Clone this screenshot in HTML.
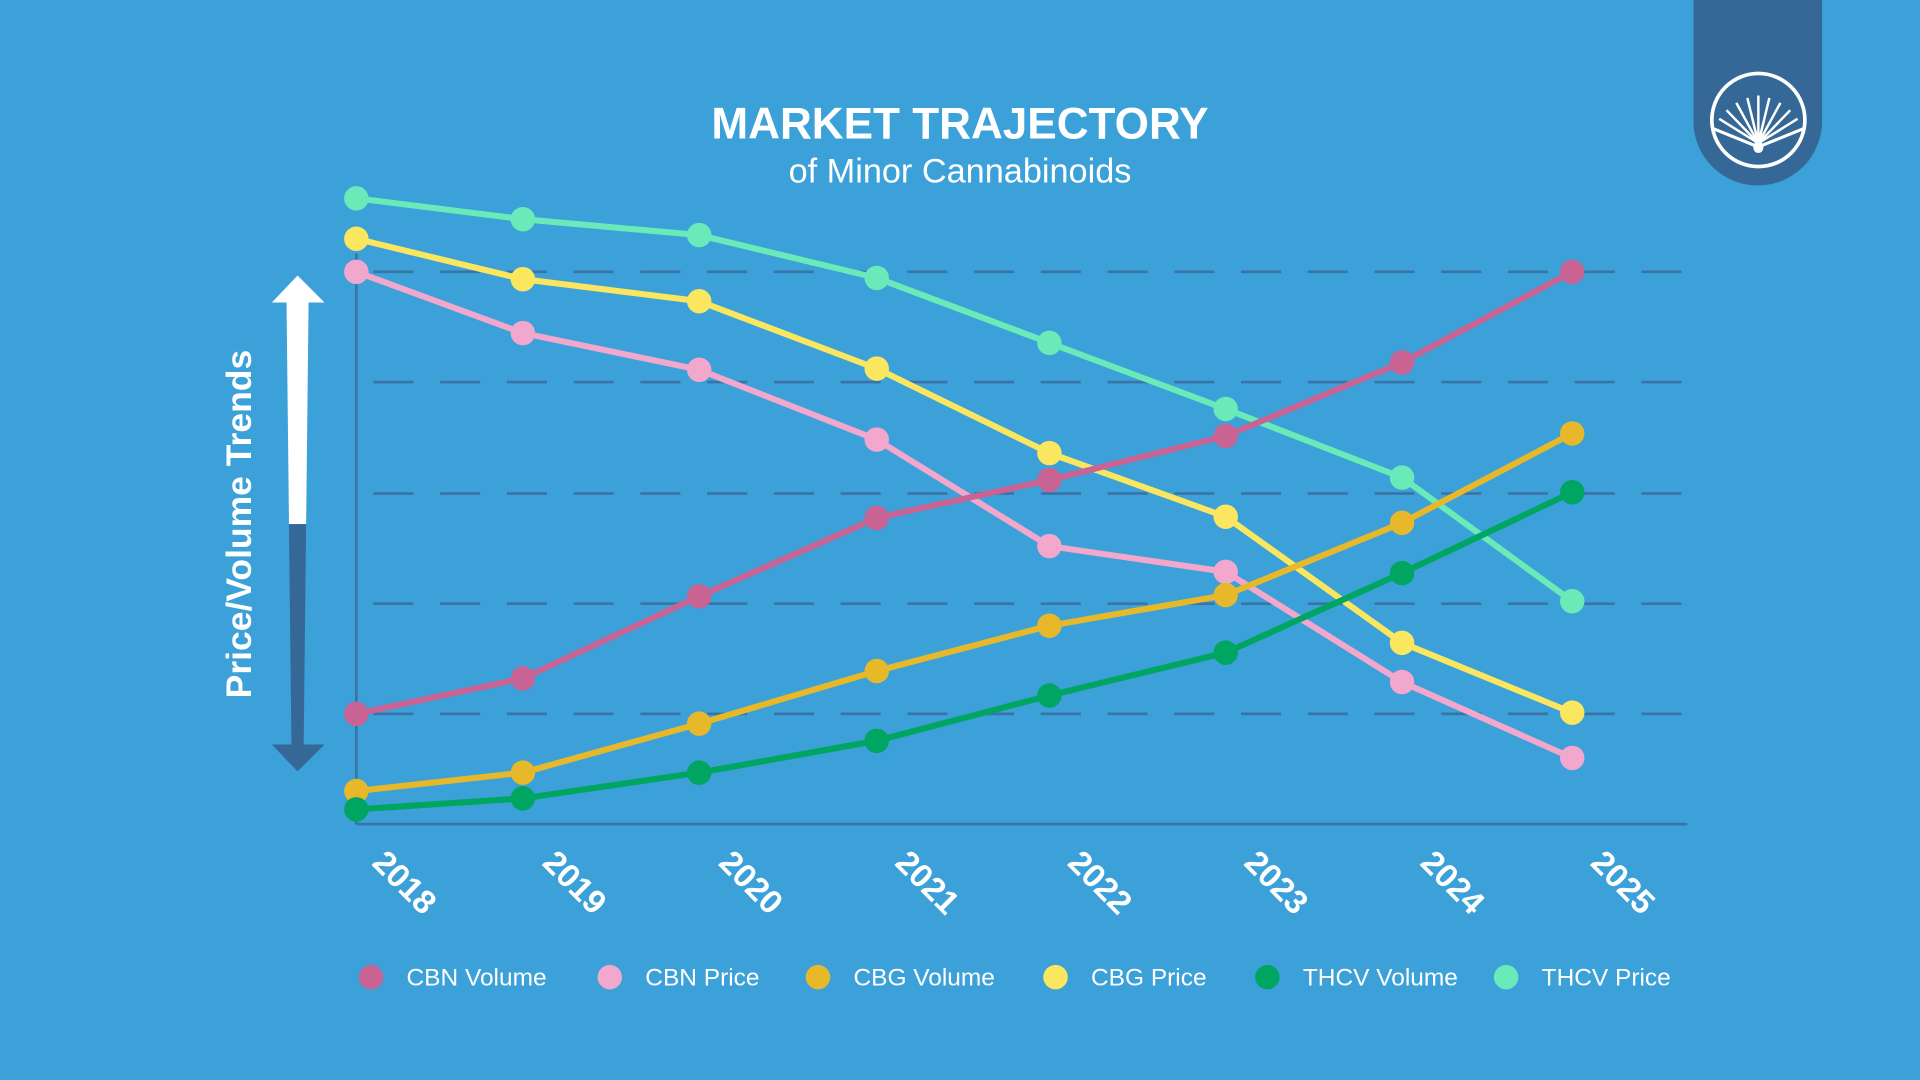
<!DOCTYPE html>
<html><head><meta charset="utf-8"><style>
html,body{margin:0;padding:0;background:#3ba1d8;width:1920px;height:1080px;overflow:hidden}
svg{display:block}
text{font-family:"Liberation Sans",sans-serif;fill:#fff}
</style></head><body>
<svg width="1920" height="1080" viewBox="0 0 1568 882" preserveAspectRatio="none">
<rect width="1568" height="882" fill="#3ba1d8"/>
<path d="M1383 0 H1488 V99 A52.5 52.5 0 0 1 1383 99 Z" fill="#356896"/>
<g stroke="#fff" fill="none" stroke-width="3">
<circle cx="1436" cy="98" r="38"/>
<path d="M1399 105 L1436 120 L1473 105" stroke-width="2.5"/>
<g stroke-width="2">
<line x1="1436" y1="117" x2="1436" y2="78"/>
<line x1="1436" y1="117" x2="1427" y2="80"/><line x1="1436" y1="117" x2="1445" y2="80"/>
<line x1="1436" y1="117" x2="1418" y2="84"/><line x1="1436" y1="117" x2="1454" y2="84"/>
<line x1="1436" y1="117" x2="1410" y2="90"/><line x1="1436" y1="117" x2="1462" y2="90"/>
<line x1="1436" y1="117" x2="1404" y2="97"/><line x1="1436" y1="117" x2="1468" y2="97"/>
</g></g>
<path d="M1436 112 Q1441 119 1440 121 A4 4 0 0 1 1432 121 Q1431 119 1436 112Z" fill="#fff"/>
<text x="784" y="113" text-anchor="middle" font-size="36" font-weight="bold">MARKET TRAJECTORY</text>
<text x="784" y="149" text-anchor="middle" font-size="28">of Minor Cannabinoids</text>
<g stroke="#3a74a6" stroke-width="2.2" stroke-dasharray="32.7 21.8" stroke-dashoffset="-14">
<line x1="291" y1="222" x2="1378" y2="222"/>
<line x1="291" y1="312" x2="1378" y2="312"/>
<line x1="291" y1="403" x2="1378" y2="403"/>
<line x1="291" y1="493" x2="1378" y2="493"/>
<line x1="291" y1="583" x2="1378" y2="583"/>
</g>
<line x1="291" y1="207" x2="291" y2="673" stroke="#3a74a6" stroke-width="2.2"/>
<line x1="291" y1="673" x2="1378" y2="673" stroke="#3a74a6" stroke-width="2.2"/>
<polygon points="222,247 243,225 265,247 252,247 250,428 236,428 234,247" fill="#fff"/>
<polygon points="236,428 250,428 248,608 265,608 243,630 222,608 238,608" fill="#356896"/>
<text transform="translate(205,428) rotate(-90)" text-anchor="middle" font-size="29" font-weight="bold">Price/Volume Trends</text>
<g fill="none" stroke-width="5" stroke-linejoin="round">
<polyline stroke="#6aeab8" points="291,162 427,179 571,192 716,227 857,280 1001,334 1145,390 1284,491"/>
<polyline stroke="#fbe660" points="291,195 427,228 571,246 716,301 857,370 1001,422 1145,525 1284,582"/>
<polyline stroke="#f2a7cd" points="291,222 427,272 571,302 716,359 857,446 1001,467 1145,557 1284,619"/>
<polyline stroke="#c96394" points="291,583 427,554 571,487 716,423 857,392 1001,356 1145,296 1284,222"/>
<polyline stroke="#e6b82a" points="291,646 427,631 571,591 716,548 857,511 1001,486 1145,427 1284,354"/>
<polyline stroke="#00a561" points="291,661 427,652 571,631 716,605 857,568 1001,533 1145,468 1284,402"/>
</g>
<g fill="#6aeab8"><circle cx="291" cy="162" r="10"/><circle cx="427" cy="179" r="10"/><circle cx="571" cy="192" r="10"/><circle cx="716" cy="227" r="10"/><circle cx="857" cy="280" r="10"/><circle cx="1001" cy="334" r="10"/><circle cx="1145" cy="390" r="10"/><circle cx="1284" cy="491" r="10"/></g>
<g fill="#fbe660"><circle cx="291" cy="195" r="10"/><circle cx="427" cy="228" r="10"/><circle cx="571" cy="246" r="10"/><circle cx="716" cy="301" r="10"/><circle cx="857" cy="370" r="10"/><circle cx="1001" cy="422" r="10"/><circle cx="1145" cy="525" r="10"/><circle cx="1284" cy="582" r="10"/></g>
<g fill="#f2a7cd"><circle cx="291" cy="222" r="10"/><circle cx="427" cy="272" r="10"/><circle cx="571" cy="302" r="10"/><circle cx="716" cy="359" r="10"/><circle cx="857" cy="446" r="10"/><circle cx="1001" cy="467" r="10"/><circle cx="1145" cy="557" r="10"/><circle cx="1284" cy="619" r="10"/></g>
<g fill="#c96394"><circle cx="291" cy="583" r="10"/><circle cx="427" cy="554" r="10"/><circle cx="571" cy="487" r="10"/><circle cx="716" cy="423" r="10"/><circle cx="857" cy="392" r="10"/><circle cx="1001" cy="356" r="10"/><circle cx="1145" cy="296" r="10"/><circle cx="1284" cy="222" r="10"/></g>
<g fill="#e6b82a"><circle cx="291" cy="646" r="10"/><circle cx="427" cy="631" r="10"/><circle cx="571" cy="591" r="10"/><circle cx="716" cy="548" r="10"/><circle cx="857" cy="511" r="10"/><circle cx="1001" cy="486" r="10"/><circle cx="1145" cy="427" r="10"/><circle cx="1284" cy="354" r="10"/></g>
<g fill="#00a561"><circle cx="291" cy="661" r="10"/><circle cx="427" cy="652" r="10"/><circle cx="571" cy="631" r="10"/><circle cx="716" cy="605" r="10"/><circle cx="857" cy="568" r="10"/><circle cx="1001" cy="533" r="10"/><circle cx="1145" cy="468" r="10"/><circle cx="1284" cy="402" r="10"/></g>
<g font-size="27" font-weight="bold" text-anchor="middle">
<text transform="translate(324,727) rotate(45)">2018</text>
<text transform="translate(463,727) rotate(45)">2019</text>
<text transform="translate(607,727) rotate(45)">2020</text>
<text transform="translate(751,727) rotate(45)">2021</text>
<text transform="translate(892,727) rotate(45)">2022</text>
<text transform="translate(1036,727) rotate(45)">2023</text>
<text transform="translate(1180,727) rotate(45)">2024</text>
<text transform="translate(1319,727) rotate(45)">2025</text>
</g>
<g font-size="20">
<circle cx="303" cy="798" r="10" fill="#c96394"/><text x="332" y="805">CBN Volume</text>
<circle cx="498" cy="798" r="10" fill="#f2a7cd"/><text x="527" y="805">CBN Price</text>
<circle cx="668" cy="798" r="10" fill="#e6b82a"/><text x="697" y="805">CBG Volume</text>
<circle cx="862" cy="798" r="10" fill="#fbe660"/><text x="891" y="805">CBG Price</text>
<circle cx="1035" cy="798" r="10" fill="#00a561"/><text x="1064" y="805">THCV Volume</text>
<circle cx="1230" cy="798" r="10" fill="#6aeab8"/><text x="1259" y="805">THCV Price</text>
</g>
</svg>
</body></html>
